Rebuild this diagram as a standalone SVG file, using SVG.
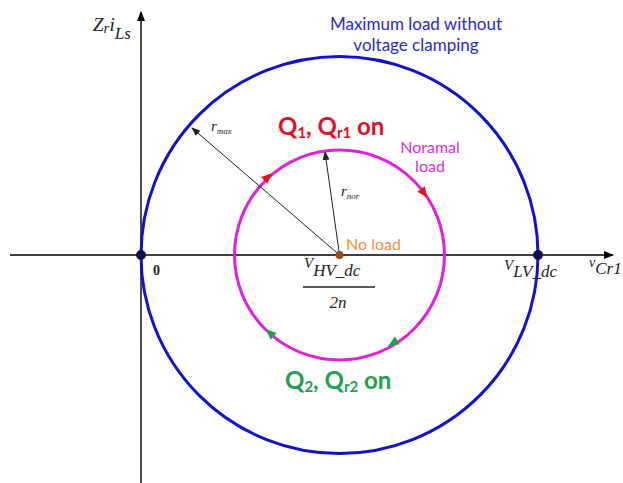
<svg xmlns="http://www.w3.org/2000/svg" width="623" height="483" viewBox="0 0 623 483">
<style>
.ax{stroke:#000;stroke-width:1.4;fill:none}
.rad{stroke:#222;stroke-width:1;fill:none}
.math{font-family:"Liberation Serif",serif;font-style:italic;fill:#222}
.sans{font-family:Lato,"Open Sans",sans-serif}
</style>
<defs>
<marker id="axh" markerWidth="10" markerHeight="10" refX="9" refY="5" orient="auto" markerUnits="userSpaceOnUse">
<path d="M0,1 L10,5 L0,9 Z" fill="#000"/>
</marker>
<marker id="rh" markerWidth="9" markerHeight="8" refX="8" refY="4" orient="auto" markerUnits="userSpaceOnUse">
<path d="M0,0.5 L9,4 L0,7.5 Z" fill="#222"/>
</marker>
<path id="tri" d="M6,0 L-5,-4.5 L-5,4.5 Z"/>
</defs>
<rect width="623" height="483" fill="#fff"/>
<g id="axes">
<line class="ax" x1="141" y1="483" x2="141" y2="12" marker-end="url(#axh)"/>
<line class="ax" x1="10" y1="255" x2="613" y2="255" marker-end="url(#axh)"/>
</g>
<g id="max-circle">
<circle cx="339.5" cy="255" r="198.5" fill="none" stroke="#1212CC" stroke-width="3"/>
</g>
<g id="nor-circle">
<circle cx="339.5" cy="255" r="105" fill="none" stroke="#E020E0" stroke-width="3"/>
</g>
<g id="connectors">
<line class="rad" x1="339.5" y1="255" x2="192" y2="128" marker-end="url(#rh)"/>
<line class="rad" x1="339.5" y1="255" x2="325" y2="152" marker-end="url(#rh)"/>
<use href="#tri" fill="#E81020" transform="translate(268,177) rotate(-42.5)"/>
<use href="#tri" fill="#E81020" transform="translate(424,193) rotate(53.7)"/>
<use href="#tri" fill="#20A050" transform="translate(270,333) rotate(-138.3)"/>
<use href="#tri" fill="#20A050" transform="translate(393,343) rotate(148.5)"/>
</g>
<g id="points">
<circle cx="141" cy="255" r="5" fill="#101050"/>
<circle cx="538" cy="255" r="5" fill="#101050"/>
<circle cx="339.5" cy="255" r="4" fill="#A04810"/>
</g>
<g id="axis-labels">
<text class="math" x="93" y="31" font-size="19">Z<tspan font-size="15" dy="2">r</tspan><tspan font-size="19" dy="-2">i</tspan><tspan font-size="17" dy="8">Ls</tspan></text>
<text class="math" x="589" y="267" font-size="14">v<tspan font-size="17" dy="7">Cr1</tspan></text>
<text x="153" y="275" font-family="Liberation Serif,serif" font-weight="bold" font-size="14" fill="#222">0</text>
<text class="math" x="504" y="270" font-size="15">V<tspan font-size="17" dy="7">LV_dc</tspan></text>
<text class="math" x="304" y="268" font-size="15">V<tspan font-size="17" dy="8">HV_dc</tspan></text>
<line x1="303" y1="287" x2="375" y2="287" stroke="#222" stroke-width="1.3"/>
<text class="math" x="338" y="308" font-size="17" text-anchor="middle">2n</text>
<text class="math" x="211" y="131" font-size="15">r<tspan font-size="9" dy="3">max</tspan></text>
<text class="math" x="341" y="196" font-size="15">r<tspan font-size="9" dy="3">nor</tspan></text>
</g>
<g id="label-max">
<text class="sans" x="416" y="30" font-size="17" fill="#2A2ACC" text-anchor="middle">Maximum load without</text>
<text class="sans" x="416" y="51" font-size="17" fill="#2A2ACC" text-anchor="middle">voltage clamping</text>
</g>
<g id="label-nor">
<text class="sans" x="430" y="153" font-size="16" fill="#D830D8" text-anchor="middle">Noramal</text>
<text class="sans" x="430" y="172" font-size="16" fill="#D830D8" text-anchor="middle">load</text>
</g>
<g id="label-noload">
<text class="sans" x="346" y="250" font-size="16" fill="#EE9040">No load</text>
</g>
<g id="label-q1">
<text class="sans" x="278" y="135" font-size="24" font-weight="bold" fill="#E0102A">Q<tspan font-size="15" dy="3">1</tspan><tspan dy="-3">, Q</tspan><tspan font-size="15" dy="3">r1</tspan><tspan dy="-3"> on</tspan></text>
</g>
<g id="label-q2">
<text class="sans" x="285" y="389" font-size="24" font-weight="bold" fill="#20A050">Q<tspan font-size="15" dy="3">2</tspan><tspan dy="-3">, Q</tspan><tspan font-size="15" dy="3">r2</tspan><tspan dy="-3"> on</tspan></text>
</g>
</svg>
